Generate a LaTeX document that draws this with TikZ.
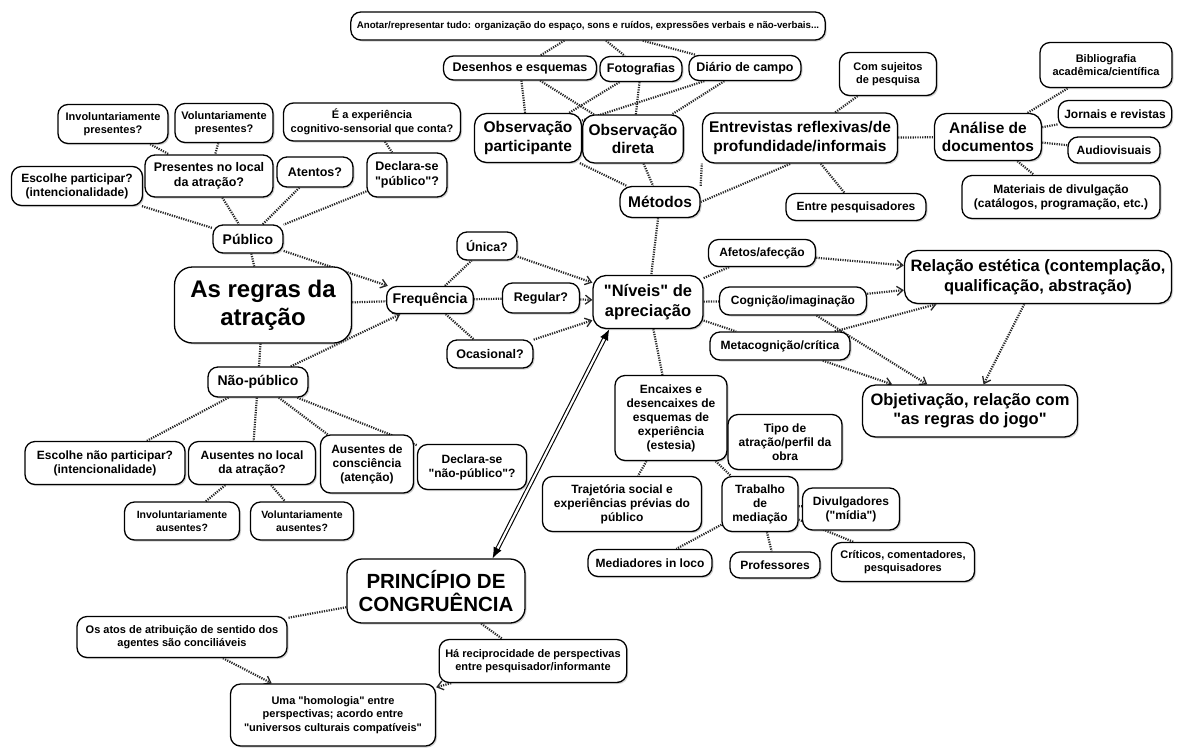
\documentclass[tikz,border=0pt]{standalone}
\usepackage{fontspec}
\setmainfont{Liberation Sans}
\usetikzlibrary{arrows.meta,shadows,backgrounds,positioning}

\newcommand{\qq}{\textquotedbl}

\tikzset{
  cbox/.style={draw, line width=1.3pt, rounded corners=10pt, fill=white, align=center,
    inner xsep=6pt, inner ysep=5pt,
    drop shadow={shadow xshift=1.5pt, shadow yshift=-1.5pt, opacity=.35}},
  tiny/.style={cbox, font=\fontsize{10.5}{13}\selectfont\bfseries},
  small/.style={cbox, font=\fontsize{11}{13.5}\selectfont\bfseries},
  norm/.style={cbox, font=\fontsize{12}{14}\selectfont\bfseries},
  plus/.style={cbox, font=\fontsize{12.5}{14.5}\selectfont\bfseries},
  mid/.style={cbox, font=\fontsize{14}{16}\selectfont\bfseries},
  big/.style={cbox, font=\fontsize{15.5}{18.5}\selectfont\bfseries, rounded corners=12pt},
  large/.style={cbox, font=\fontsize{16.5}{19.5}\selectfont\bfseries, rounded corners=13pt},
  huge/.style={cbox, font=\fontsize{20.5}{23}\selectfont\bfseries, rounded corners=15pt},
  title/.style={cbox, font=\fontsize{24}{28}\selectfont\bfseries, rounded corners=18pt, inner xsep=10pt},
  link/.style={draw=black!85, line width=2.2pt, dash pattern=on 1.2pt off 1.2pt},
  flow/.style={link, -{Straight Barb[length=6pt,width=9pt,line width=1.3pt]}},
  dbl/.style={double=white, double distance=2.2pt, line width=1.1pt,
    {Latex[length=11pt,width=9pt]}-{Latex[length=11pt,width=9pt]}}
}

\begin{document}
\begin{tikzpicture}[x=1pt,y=-1pt]
\useasboundingbox (0,0) rectangle (1178,748);

% Métodos
\node (anotar) at (588,26) [cbox, font=\fontsize{9.7}{12}\selectfont\bfseries, minimum width=463, minimum height=28] {Anotar/representar tudo: organização do espaço, sons e ruídos, expressões verbais e não-verbais...};
\node (desenhos) at (520,68) [plus, minimum width=153, minimum height=24] {Desenhos e esquemas};
\node (fotos) at (641,69) [plus, minimum width=82, minimum height=25] {Fotografias};
\node (diario) at (745,68) [plus, minimum width=112, minimum height=25] {Diário de campo};
\node (sujeitos) at (888,74) [small, minimum width=97, minimum height=43] {Com sujeitos\\de pesquisa};
\node (biblio) at (1106,65) [small, minimum width=132, minimum height=45] {Bibliografia\\acadêmica/científica};
\node (jornais) at (1115,114) [norm, minimum width=110, minimum height=27] {Jornais e revistas};
\node (audio) at (1114,150) [norm, minimum width=92, minimum height=26] {Audiovisuais};
\node (materiais) at (1061,197) [norm, minimum width=198, minimum height=43] {Materiais de divulgação\\(catálogos, programação, etc.)};
\node (analise) at (988,137) [big, minimum width=107, minimum height=47] {Análise de\\documentos};
\node (entrev) at (800,138) [big, minimum width=195, minimum height=50] {Entrevistas reflexivas/de\\profundidade/informais};
\node (entrepesq) at (856,207) [norm, minimum width=140, minimum height=27] {Entre pesquisadores};
\node (obspart) at (528,138) [big, minimum width=107, minimum height=49] {Observação\\participante};
\node (obsdir) at (633,139) [big, minimum width=99, minimum height=48] {Observação\\direta};
\node (metodos) at (660,202) [big, minimum width=80, minimum height=31] {Métodos};

% Público
\node (involpres) at (113,124) [small, minimum width=110, minimum height=39] {Involuntariamente\\presentes?};
\node (volpres) at (224,123) [small, minimum width=98, minimum height=39] {Voluntariamente\\presentes?};
\node (experiencia) at (372,122) [small, minimum width=177, minimum height=38] {É a experiência\\cognitivo-sensorial que conta?};
\node (escolhe) at (77,186) [norm, minimum width=131, minimum height=39] {Escolhe participar?\\(intencionalidade)};
\node (presentes) at (209,176) [plus, minimum width=128, minimum height=42] {Presentes no local\\da atração?};
\node (atentos) at (315,172) [plus, minimum width=76, minimum height=30] {Atentos?};
\node (declpub) at (407,175) [plus, minimum width=80, minimum height=44] {Declara-se\\\qq público\qq ?};
\node (pub) at (248,239) [mid, minimum width=70, minimum height=28] {Público};
\node (regras) at (263,305) [title, minimum width=177, minimum height=76] {As regras da\\atração};
\node (freq) at (430,300) [mid, minimum width=85, minimum height=27] {Frequência};
\node (naopub) at (258,382) [mid, minimum width=100, minimum height=30] {Não-público};

% Não-público
\node (escolhenao) at (105,463) [norm, minimum width=160, minimum height=43] {Escolhe não participar?\\(intencionalidade)};
\node (auslocal) at (252,463) [norm, minimum width=127, minimum height=43] {Ausentes no local\\da atração?};
\node (ausconsc) at (367,464) [norm, minimum width=93, minimum height=58] {Ausentes de\\consciência\\(atenção)};
\node (declnao) at (472,467) [norm, minimum width=109, minimum height=45] {Declara-se\\\qq não-público\qq ?};
\node (involaus) at (182,521) [tiny, minimum width=115, minimum height=38] {Involuntariamente\\ausentes?};
\node (volaus) at (302,521) [tiny, minimum width=103, minimum height=38] {Voluntariamente\\ausentes?};

% Níveis
\node (unica) at (487,246) [plus, minimum width=60, minimum height=28] {Única?};
\node (regular) at (541,298) [plus, minimum width=77, minimum height=30] {Regular?};
\node (ocasional) at (490,354) [plus, minimum width=86, minimum height=28] {Ocasional?};
\node (niveis) at (648,302) [large, minimum width=110, minimum height=53] {\qq Níveis\qq{} de\\apreciação};
\node (afetos) at (762,253) [norm, minimum width=107, minimum height=27] {Afetos/afecção};
\node (cognicao) at (793,301) [norm, minimum width=147, minimum height=28] {Cognição/imaginação};
\node (metacog) at (780,346) [norm, minimum width=140, minimum height=28] {Metacognição/crítica};
\node (relacao) at (1038,277) [large, minimum width=267, minimum height=53] {Relação estética (contemplação,\\qualificação, abstração)};
\node (objetiv) at (970,411) [large, minimum width=215, minimum height=52] {Objetivação, relação com\\\qq as regras do jogo\qq};
\node (encaixes) at (671,418) [norm, minimum width=112, minimum height=85] {Encaixes e\\desencaixes de\\esquemas de\\experiência\\(estesia)};
\node (tipo) at (785,442) [norm, minimum width=114, minimum height=55] {Tipo de\\atração/perfil da\\obra};
\node (trajet) at (622,504) [norm, minimum width=159, minimum height=55] {Trajetória social e\\experiências prévias do\\público};
\node (trabalho) at (760,504) [norm, minimum width=76, minimum height=55] {Trabalho\\de\\mediação};
\node (divulg) at (851,509) [norm, minimum width=97, minimum height=42] {Divulgadores\\(\qq mídia\qq )};
\node (mediad) at (650,563) [norm, minimum width=124, minimum height=27] {Mediadores in loco};
\node (profs) at (775,565) [norm, minimum width=90, minimum height=26] {Professores};
\node (criticos) at (903,562) [small, minimum width=143, minimum height=39] {Críticos, comentadores,\\pesquisadores};

% Congruência
\node (principio) at (436,591) [huge, minimum width=178, minimum height=64] {PRINCÍPIO DE\\CONGRUÊNCIA};
\node (atos) at (182,637) [small, minimum width=210, minimum height=41] {Os atos de atribuição de sentido dos\\agentes são conciliáveis};
\node (recipr) at (533,661) [small, minimum width=157, minimum height=43] {Há reciprocidade de perspectivas\\entre pesquisador/informante};
\node (homolog) at (333,715) [small, minimum width=205, minimum height=62] {Uma \qq homologia\qq{} entre\\perspectivas; acordo entre\\\qq universos culturais compatíveis\qq};

\begin{scope}[on background layer]
\fill[white] (0,0) rectangle (1178,748);
\draw[link] (anotar)--(desenhos);
\draw[link] (anotar)--(fotos);
\draw[link] (anotar)--(diario);
\draw[link] (desenhos)--(obspart);
\draw[link] (desenhos)--(obsdir);
\draw[link] (fotos)--(obspart);
\draw[link] (fotos)--(obsdir);
\draw[link] (diario)--(obspart);
\draw[link] (diario)--(obsdir);
\draw[link] (obspart)--(metodos);
\draw[link] (obsdir)--(metodos);
\draw[link] (metodos.north east)--(entrev.south west);
\draw[link] (metodos.east)--(entrev.250);
\draw[link] (entrev)--(sujeitos);
\draw[link] (entrev)--(entrepesq);
\draw[link] (entrev)--(analise);
\draw[link] (analise)--(biblio);
\draw[link] (analise)--(jornais);
\draw[link] (analise)--(audio);
\draw[link] (analise)--(materiais);
\draw[link] (metodos)--(niveis);
\draw[link] (involpres)--(presentes);
\draw[link] (volpres)--(presentes);
\draw[link] (experiencia)--(declpub);
\draw[link] (escolhe)--(pub);
\draw[link] (presentes)--(pub);
\draw[link] (atentos)--(pub);
\draw[link] (declpub)--(pub);
\draw[link] (pub)--(regras);
\draw[link] (regras)--(freq);
\draw[link] (regras)--(naopub);
\draw[flow] (pub)--(freq);
\draw[flow] (naopub)--(freq);
\draw[link] (naopub)--(escolhenao);
\draw[link] (naopub)--(auslocal);
\draw[link] (naopub)--(ausconsc);
\draw[link] (naopub)--(declnao);
\draw[link] (auslocal)--(involaus);
\draw[link] (auslocal)--(volaus);
\draw[link] (freq)--(unica);
\draw[link] (freq)--(regular);
\draw[link] (freq)--(ocasional);
\draw[flow] (unica)--(niveis);
\draw[flow] (regular)--(niveis);
\draw[flow] (ocasional)--(niveis);
\draw[link] (niveis)--(afetos);
\draw[link] (niveis)--(cognicao);
\draw[link] (niveis)--(metacog);
\draw[flow] (afetos)--(relacao);
\draw[flow] (cognicao)--(relacao);
\draw[flow] (metacog)--(relacao);
\draw[flow] (cognicao)--(objetiv);
\draw[flow] (metacog)--(objetiv);
\draw[flow] (relacao)--(objetiv);
\draw[link] (niveis)--(encaixes);
\draw[link] (encaixes)--(trajet);
\draw[link] (encaixes)--(trabalho);
\draw[link] (trabalho)--(divulg);
\draw[link] (trabalho)--(mediad);
\draw[link] (trabalho)--(profs);
\draw[link] (trabalho)--(criticos);
\draw[link] (principio)--(atos);
\draw[link] (principio)--(recipr);
\draw[flow] (atos)--(homolog);
\draw[flow] (recipr)--(homolog);
\end{scope}
\draw[dbl] (principio.30)--(niveis.215);
\end{tikzpicture}
\end{document}
